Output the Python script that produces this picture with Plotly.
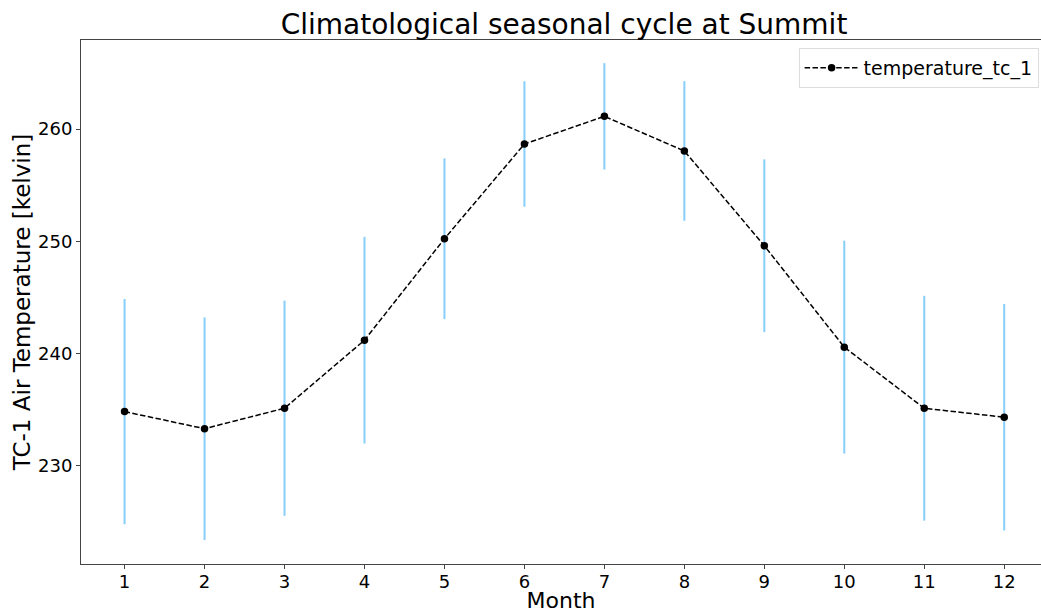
import plotly.graph_objects as go

months = [1, 2, 3, 4, 5, 6, 7, 8, 9, 10, 11, 12]
temperature_mean = [234.84, 233.32, 235.14, 241.2, 250.23, 258.67, 261.13, 258.05, 249.61, 240.58, 235.14, 234.34]
temperature_std = [10.03, 9.91, 9.58, 9.2, 7.16, 5.59, 4.74, 6.22, 7.69, 9.48, 10.01, 10.08]
x_ticks = [1, 2, 3, 4, 5, 6, 7, 8, 9, 10, 11, 12]
y_ticks = [230, 240, 250, 260]

FONT = "DejaVu Sans"

fig = go.Figure()
fig.add_trace(go.Scatter(
    x=months, y=temperature_mean,
    mode="lines+markers",
    name="temperature_tc_1",
    line=dict(color="black", dash="5.5px,2.4px", width=1.5),
    marker=dict(color="black", size=7.5),
    error_y=dict(type="data", array=temperature_std, visible=True,
                 color="#87cefa", thickness=2, width=0),
))

fig.update_layout(
    width=1041, height=613,
    margin=dict(l=81, r=0, t=40, b=49),
    paper_bgcolor="white", plot_bgcolor="white",
    font=dict(family=FONT, color="black", size=18),
    title=dict(text="Climatological seasonal cycle at Summit",
               font=dict(family=FONT, size=28, color="black"),
               x=0.5418, xanchor="center", xref="container",
               y=1 - 24 / 613, yanchor="middle", yref="container"),
    showlegend=True,
    legend=dict(x=0.9975, xanchor="right", y=0.985, yanchor="top",
                itemwidth=54,
                bgcolor="rgba(255,255,255,0.8)", bordercolor="#dddddd", borderwidth=1,
                font=dict(family=FONT, size=19, color="black")),
    xaxis=dict(range=[0.455, 12.46], tickmode="array", tickvals=x_ticks,
               showgrid=False, zeroline=False,
               showline=True, linecolor="#444444", linewidth=1, mirror=True,
               ticks="outside", ticklen=4, tickcolor="#444444",
               ticklabelstandoff=-3,
               tickfont=dict(family=FONT, size=18, color="black"),
               title=dict(text="Month", font=dict(family=FONT, size=22, color="black"), standoff=4)),
    yaxis=dict(range=[221.27, 267.93], tickmode="array", tickvals=y_ticks,
               showgrid=False, zeroline=False,
               showline=True, linecolor="#444444", linewidth=1, mirror=False,
               ticks="outside", ticklen=4, tickcolor="#444444",
               tickfont=dict(family=FONT, size=18, color="black"),
               title=dict(text="TC-1 Air Temperature [kelvin]", font=dict(family=FONT, size=23, color="black"), standoff=0)),
)

fig.write_html("out.html", config={"displayModeBar": False},
               post_script="document.body.style.margin='0';document.body.style.overflow='hidden';")
